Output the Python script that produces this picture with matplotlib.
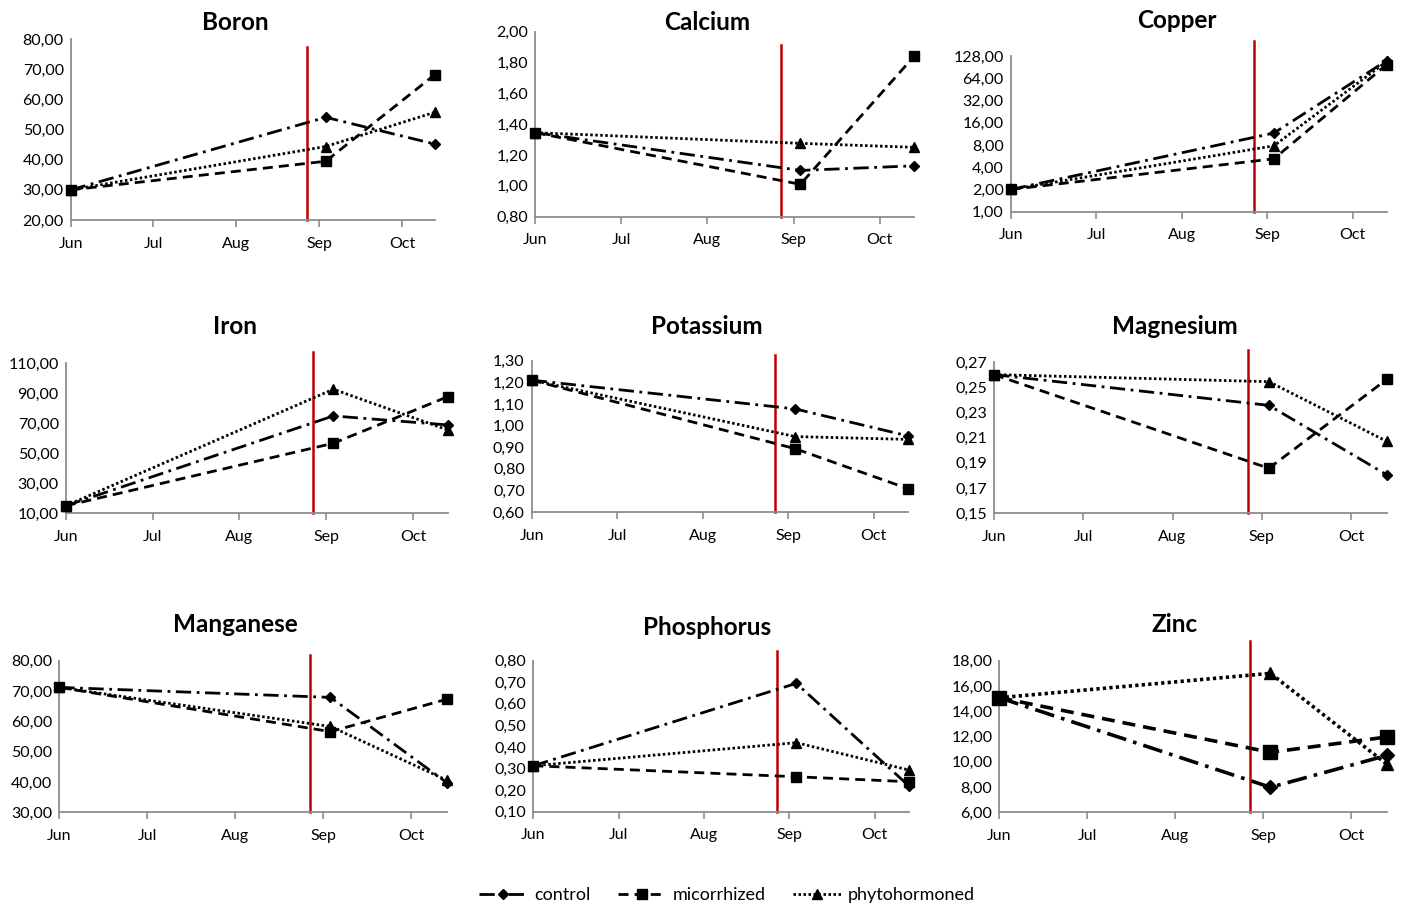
import numpy as np
import matplotlib
matplotlib.use("Agg")
import matplotlib.pyplot as plt
from matplotlib.ticker import FixedLocator, FuncFormatter, NullLocator
from matplotlib.lines import Line2D

plt.rcParams['font.family'] = ['Lato', 'DejaVu Sans']

# Sampling dates, in months after June 1st
sample_months = [0.0, 3.08, 4.4]
treatment_month = 2.85
month_labels = ["Jun", "Jul", "Aug", "Sep", "Oct"]

elements = ["Boron", "Calcium", "Copper",
            "Iron", "Potassium", "Magnesium",
            "Manganese", "Phosphorus", "Zinc"]

# values: Jun, Sep, Oct
control = {
    "Boron":      [30.0, 54.1, 45.2],
    "Calcium":    [1.345, 1.10, 1.13],
    "Copper":     [2.0, 11.6, 111.0],
    "Iron":       [15.0, 74.9, 68.9],
    "Potassium":  [1.21, 1.077, 0.952],
    "Magnesium":  [0.260, 0.2356, 0.1806],
    "Manganese":  [71.2, 67.9, 39.8],
    "Phosphorus": [0.313, 0.695, 0.219],
    "Zinc":       [15.07, 7.98, 10.5],
}
micorrhized = {
    "Boron":      [30.0, 39.5, 68.3],
    "Calcium":    [1.345, 1.01, 1.84],
    "Copper":     [2.0, 5.2, 98.0],
    "Iron":       [15.0, 56.7, 87.8],
    "Potassium":  [1.21, 0.893, 0.708],
    "Magnesium":  [0.260, 0.1857, 0.2562],
    "Manganese":  [71.2, 56.6, 67.3],
    "Phosphorus": [0.313, 0.262, 0.239],
    "Zinc":       [15.07, 10.75, 11.96],
}
phytohormoned = {
    "Boron":      [30.0, 44.4, 55.8],
    "Calcium":    [1.345, 1.276, 1.25],
    "Copper":     [2.0, 7.8, 108.0],
    "Iron":       [15.0, 92.7, 65.5],
    "Potassium":  [1.21, 0.949, 0.936],
    "Magnesium":  [0.260, 0.2544, 0.2071],
    "Manganese":  [71.2, 58.3, 40.6],
    "Phosphorus": [0.313, 0.42, 0.293],
    "Zinc":       [15.07, 17.0, 9.82],
}

y_ticks = {
    "Boron":      np.arange(20, 81, 10),
    "Calcium":    np.arange(0.8, 2.01, 0.2),
    "Copper":     [1, 2, 4, 8, 16, 32, 64, 128],
    "Iron":       np.arange(10, 111, 20),
    "Potassium":  np.arange(0.6, 1.31, 0.1),
    "Magnesium":  np.arange(0.15, 0.271, 0.02),
    "Manganese":  np.arange(30, 81, 10),
    "Phosphorus": np.arange(0.1, 0.81, 0.1),
    "Zinc":       np.arange(6, 18.1, 2),
}

W, H = 1405, 907
# axes box in pixels (left, top, right, bottom), title centre, red line height
boxes = {
    "Boron":      (70.7, 39.3, 435, 220),
    "Calcium":    (535.3, 31.7, 914, 216.7),
    "Copper":     (1010.7, 56, 1386.7, 211.7),
    "Iron":       (65.7, 363.3, 448, 513.3),
    "Potassium":  (531.7, 360.7, 908, 512),
    "Magnesium":  (994, 362, 1386.7, 513.3),
    "Manganese":  (59.3, 660.7, 446.7, 812.3),
    "Phosphorus": (533.3, 660.7, 909, 811.7),
    "Zinc":       (999.3, 660.7, 1386.7, 812.3),
}
titles_at = {
    "Boron": (235, 22), "Calcium": (706.7, 22.7), "Copper": (1176.7, 20.7),
    "Iron": (235, 326.7), "Potassium": (706.7, 326), "Magnesium": (1175, 326),
    "Manganese": (235, 625), "Phosphorus": (707.3, 627.3), "Zinc": (1175, 625),
}
red_top = {
    "Boron": 0.957, "Calcium": 0.93, "Copper": 1.098, "Iron": 1.077,
    "Potassium": 1.036, "Magnesium": 1.079, "Manganese": 1.037,
    "Phosphorus": 1.064, "Zinc": 1.129,
}

styles = [
    ("control", control, dict(marker='D', ms=5.5, dashes=(5.5, 2, 1, 2), lw=2.0)),
    ("micorrhized", micorrhized, dict(marker='s', ms=7.5, dashes=(3.6, 2.2), lw=2.0)),
    ("phytohormoned", phytohormoned, dict(marker='^', ms=7, dashes=(0.9, 0.9), lw=2.0)),
]

grey = '#8c8c8c'
comma = FuncFormatter(lambda v, p: f"{v:.2f}".replace('.', ','))

fig = plt.figure(figsize=(W / 100, H / 100), dpi=100)

for name in elements:
    l, t, r, b = boxes[name]
    ax = fig.add_axes([l / W, 1 - b / H, (r - l) / W, (b - t) / H])
    scale = 1.3 if name == "Zinc" else 1.0

    ax.axvline(treatment_month, ymin=0, ymax=red_top[name], color='#c00000',
               lw=1.8, clip_on=False, zorder=1)

    for label, series, st in styles:
        ax.plot(sample_months, series[name], color='black', marker=st['marker'],
                ms=st['ms'] * scale, lw=st['lw'] * scale, dashes=st['dashes'],
                dash_capstyle='butt', clip_on=False, zorder=3)

    if name == "Copper":
        ax.set_yscale('log', base=2)
    ax.set_ylim(y_ticks[name][0], y_ticks[name][-1])
    ax.yaxis.set_major_locator(FixedLocator(y_ticks[name]))
    ax.yaxis.set_minor_locator(NullLocator())
    ax.yaxis.set_major_formatter(comma)

    ax.set_xlim(0, 4.4)
    ax.set_xticks(range(len(month_labels)))
    ax.set_xticklabels(month_labels)

    for s in ['top', 'right']:
        ax.spines[s].set_visible(False)
    for s in ['left', 'bottom']:
        ax.spines[s].set_color(grey)
        ax.spines[s].set_linewidth(1.3)
    ax.tick_params(axis='x', direction='out', length=5, width=1.2, color=grey,
                   labelsize=11.5, pad=7)
    ax.tick_params(axis='y', length=0, labelsize=11.5, pad=5)

    tx, ty = titles_at[name]
    fig.text(tx / W, 1 - ty / H, name, ha='center', va='center',
             fontsize=17.5, fontweight='bold')

handles = [Line2D([], [], color='black', marker=st['marker'], ms=st['ms'],
                  lw=st['lw'], dashes=st['dashes']) for _, _, st in styles]
fig.legend(handles, [s[0] for s in styles], loc='center',
           bbox_to_anchor=(727 / W, 1 - 895 / H), ncol=3, frameon=False,
           fontsize=13, handlelength=2.65, columnspacing=1.5, handletextpad=0.4)

fig.savefig("out.png", dpi=100)
